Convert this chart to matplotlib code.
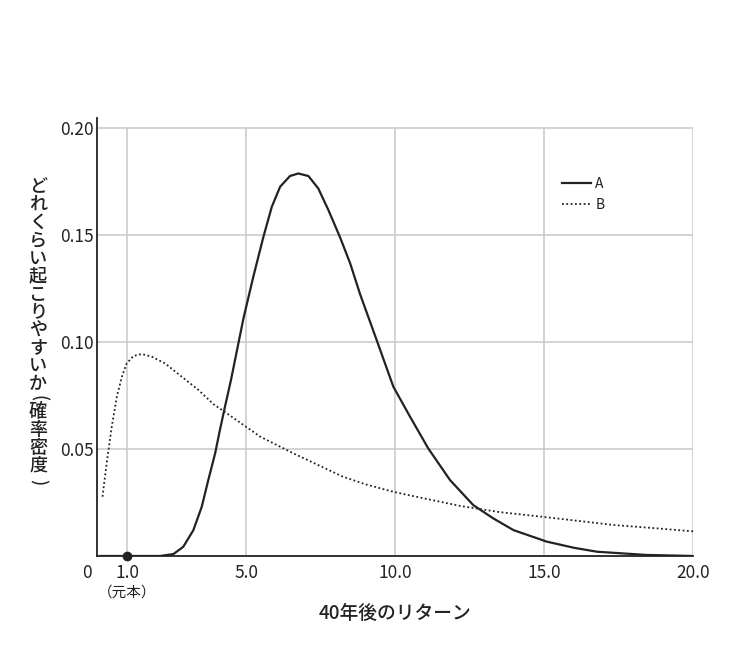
import matplotlib
matplotlib.use("Agg")
import matplotlib.pyplot as plt

# values
a_x = [0.1, 1.0, 2.1, 2.55, 2.88, 3.22, 3.50, 3.72, 3.95, 4.11, 4.28, 4.48,
       4.90, 5.23, 5.57, 5.85, 6.13, 6.46, 6.74, 7.08, 7.41, 7.75, 8.14, 8.48,
       8.81, 9.37, 9.93, 10.49, 11.10, 11.83, 12.61, 13.28, 13.96, 15.08, 16.0,
       16.76, 18.4, 20.0]
a_y = [0.0, 0.0, 0.0, 0.0009, 0.0043, 0.0121, 0.023, 0.0355, 0.048, 0.0589,
       0.0698, 0.0822, 0.1111, 0.1305, 0.1492, 0.1632, 0.1726, 0.1776, 0.1788,
       0.1776, 0.1718, 0.1617, 0.1490, 0.1368, 0.1225, 0.1009, 0.0791, 0.0651,
       0.0503, 0.0355, 0.0238, 0.0176, 0.0121, 0.0067, 0.0038, 0.002, 0.0005,
       0.0]

b_x = [0.17, 0.31, 0.48, 0.65, 0.82, 0.98, 1.21, 1.49, 1.82, 2.27, 2.83, 3.39,
       3.89, 4.34, 4.7, 5.06, 5.46, 6.57, 7.3, 8.25, 9.0, 9.93, 11.0, 12.17,
       13.5, 15.08, 16.2, 17.31, 18.7, 20.0]
b_y = [0.0277, 0.0433, 0.0604, 0.0744, 0.0838, 0.090, 0.0935, 0.0944, 0.0932,
       0.090, 0.0838, 0.0776, 0.0710, 0.0667, 0.0632, 0.0597, 0.0558, 0.048,
       0.0432, 0.037, 0.0335, 0.0300, 0.0268, 0.0234, 0.0205, 0.0181, 0.0163,
       0.0145, 0.013, 0.0115]

x_ticks = [1.0, 5.0, 10.0, 15.0, 20.0]
x_labels = ["1.0", "5.0", "10.0", "15.0", "20.0"]
y_ticks = [0.05, 0.10, 0.15, 0.20]
y_labels = ["0.05", "0.10", "0.15", "0.20"]
series_names = ["A", "B"]
principal = 1.0

x_title = "40年後のリターン"
y_title = "どれくらい起こりやすいか(確率密度)"

plt.rcParams['font.family'] = ['Noto Sans CJK JP', 'DejaVu Sans']
ink = "#222222"
grid_c = "#c8c8c8"

fig = plt.figure(figsize=(7.46, 6.45), dpi=100)
ax = fig.add_axes([0.1306, 0.138, 0.799, 0.6783])
ax.set_xlim(0, 20)
ax.set_ylim(0, 0.2045)

# grid, clipped at the top tick
ax.vlines(x_ticks, 0, y_ticks[-1], color=grid_c, lw=1.1, zorder=0)
ax.hlines(y_ticks, 0, 20, color=grid_c, lw=1.1, zorder=0)

ax.plot(a_x, a_y, color=ink, lw=1.6, label=series_names[0], zorder=3)
ax.plot(b_x, b_y, color=ink, lw=1.3, ls=(0, (1, 1.4)),
        label=series_names[1], zorder=3)
ax.plot([principal], [0], 'o', color=ink, ms=6, zorder=4, clip_on=False)

for s in ['top', 'right']:
    ax.spines[s].set_visible(False)
for s in ['left', 'bottom']:
    ax.spines[s].set_color(ink)
    ax.spines[s].set_linewidth(1.3)

ax.set_xticks(x_ticks)
ax.set_xticklabels(x_labels)
ax.set_yticks(y_ticks)
ax.set_yticklabels(y_labels)
ax.tick_params(length=0, labelsize=12.5, labelcolor=ink)
ax.tick_params(axis='x', pad=6)
ax.tick_params(axis='y', pad=3)

ax.annotate("0", xy=(0, 0), xytext=(-10, -17), textcoords='offset pixels',
            ha='center', va='center', fontsize=12.5, color=ink,
            annotation_clip=False)
ax.annotate("（元本）", xy=(principal, 0), xytext=(0, -37),
            textcoords='offset pixels', ha='center', va='center',
            fontsize=10.5, color=ink, annotation_clip=False)

ax.set_xlabel(x_title, fontsize=13.5, color=ink, fontweight='medium',
              labelpad=15.5)

# vertical (tategaki) y title, one glyph per row; brackets turned sideways
y_px = 187.0
for ch in y_title:
    if ch == "(":
        fig.text(38 / 746, 1 - (y_px - 4) / 645, ch, ha='center', va='center',
                 fontsize=12.5, color=ink, rotation=-90, fontweight='medium')
        y_px += 10
    elif ch == ")":
        fig.text(38 / 746, 1 - (y_px - 1) / 645, ch, ha='center', va='center',
                 fontsize=12.5, color=ink, rotation=-90, fontweight='medium')
    else:
        fig.text(38 / 746, 1 - y_px / 645, ch, ha='center', va='center',
                 fontsize=13, color=ink, fontweight='medium')
        y_px += 17.9

ax.legend(loc='upper left', bbox_to_anchor=(0.7795, 0.867), frameon=False,
          fontsize=10, handlelength=2.1, handletextpad=0.3, labelspacing=0.55,
          borderaxespad=0, borderpad=0, labelcolor=ink)

fig.savefig("out.png", dpi=100)
